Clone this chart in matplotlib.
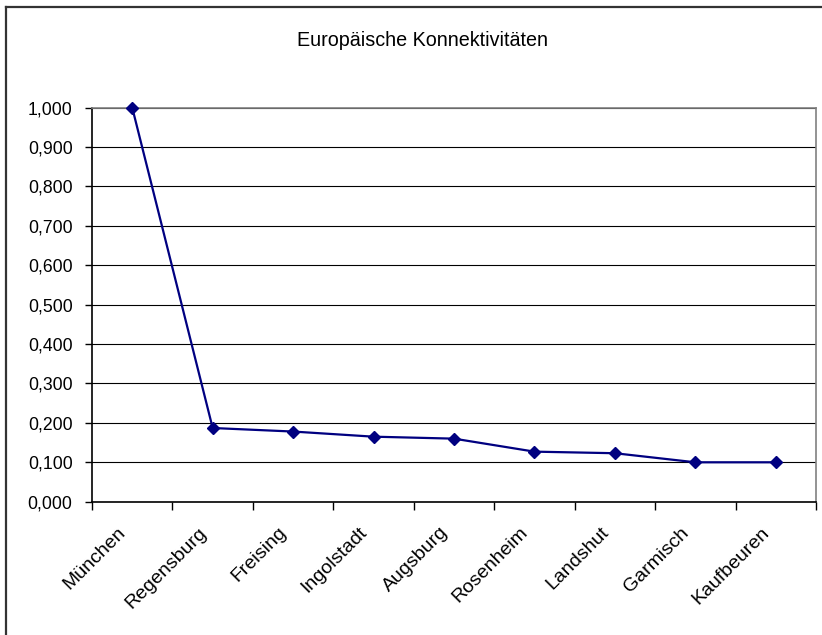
"""Europäische Konnektivitäten - line chart of connectivity index by city."""
import matplotlib
matplotlib.use("Agg")
import matplotlib.pyplot as plt
from matplotlib.lines import Line2D
from matplotlib.transforms import ScaledTranslation
import numpy as np

plt.rcParams['font.family'] = ['Liberation Sans', 'DejaVu Sans']

TITLE = "Europäische Konnektivitäten"
CITIES = ["München", "Regensburg", "Freising", "Ingolstadt", "Augsburg",
          "Rosenheim", "Landshut", "Garmisch", "Kaufbeuren"]
VALUES = [1.000, 0.187, 0.178, 0.165, 0.160, 0.127, 0.123, 0.100, 0.100]
Y_TICKS = [0.0, 0.1, 0.2, 0.3, 0.4, 0.5, 0.6, 0.7, 0.8, 0.9, 1.0]

W, H = 822, 635
fig = plt.figure(figsize=(W / 100, H / 100), dpi=100)
ax = fig.add_axes([92 / W, 1 - 501.7 / H, (816 - 92) / W, (501.7 - 107.6) / H])

x = np.arange(len(CITIES))
ax.plot(x, VALUES, color='#000080', lw=1.6, marker='D', ms=5.8,
        markerfacecolor='#000080', markeredgecolor='#000080', zorder=3, clip_on=False)

ax.set_xlim(-0.5, len(CITIES) - 0.5)
ax.set_ylim(0, 1.0)

# y axis: comma decimal labels
ax.set_yticks(Y_TICKS)
ax.set_yticklabels([f"{v:.3f}".replace('.', ',') for v in Y_TICKS], fontsize=12.7)
ax.tick_params(axis='y', direction='out', length=5, width=1, pad=9, color='black')
ax.yaxis.grid(True, color='black', lw=0.8)
ax.set_axisbelow(True)

# x axis: ticks at category boundaries, labels at centres
ax.set_xticks(np.arange(-0.5, len(CITIES), 1.0))
ax.set_xticklabels([])
ax.tick_params(axis='x', which='major', direction='out', length=5.5, width=1, color='black')
ax.set_xticks(x, minor=True)
ax.set_xticklabels(CITIES, minor=True, rotation=45, ha='right', va='top',
                   rotation_mode='anchor', fontsize=14)
ax.tick_params(axis='x', which='minor', length=0, pad=16)
shift = ScaledTranslation(-15 / 100, 0, fig.dpi_scale_trans)
for lbl in ax.get_xticklabels(minor=True):
    lbl.set_transform(lbl.get_transform() + shift)

for side in ['left', 'bottom']:
    ax.spines[side].set_color('black')
    ax.spines[side].set_linewidth(1.2)
for side in ['top', 'right']:
    ax.spines[side].set_color('#808080')
    ax.spines[side].set_linewidth(1.2)

fig.text(422 / W, 1 - 41 / H, TITLE, ha='center', va='center', fontsize=14.2)

# outer chart border
fig.add_artist(Line2D([6 / W, 6 / W], [0, 1 - 7 / H], transform=fig.transFigure,
                      color='#333333', lw=1.6))
fig.add_artist(Line2D([6 / W, 1], [1 - 7 / H, 1 - 7 / H], transform=fig.transFigure,
                      color='#333333', lw=1.6))

fig.savefig('out.png', dpi=100)
